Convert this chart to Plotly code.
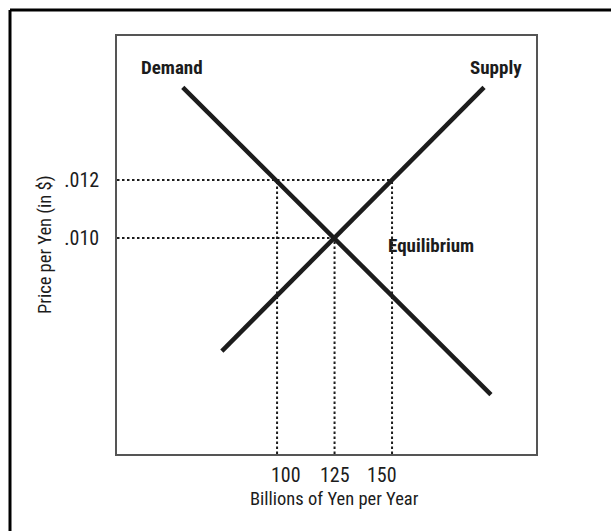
import plotly.graph_objects as go

# ---- data ----
demand_x = [59, 193]
demand_y = [0.0152, 0.0046]
supply_x = [76, 190]
supply_y = [0.0061, 0.0152]
quantity_ticks = [100, 125, 150]
quantity_labels = ["100", "125", "150"]
price_ticks = [0.010, 0.012]
price_labels = [".010", ".012"]
eq_q, eq_p = 125, 0.010          # equilibrium
hi_p = 0.012                     # higher price
hi_q_demand, hi_q_supply = 100, 150

# ---- layout geometry ----
W, H = 611, 531
L, R, T, B = 117, 75, 36, 77
PW, PH = W - L - R, H - T - B
x_range = [30.4, 212.6]
y_range = [0.00255, 0.01697]

FONT = "Liberation Sans Narrow, Arial Narrow, Roboto Condensed, sans-serif"
INK = "#1c1c1c"

fig = go.Figure()

dot = dict(color=INK, width=2, dash="2.5px,2.5px")
guides = [
    ([x_range[0], hi_q_supply], [hi_p, hi_p]),
    ([x_range[0], eq_q], [eq_p, eq_p]),
    ([hi_q_demand, hi_q_demand], [y_range[0], hi_p]),
    ([eq_q, eq_q], [y_range[0], eq_p]),
    ([hi_q_supply, hi_q_supply], [y_range[0], hi_p]),
]
for gx, gy in guides:
    fig.add_trace(go.Scatter(x=gx, y=gy, mode="lines", line=dot,
                             hoverinfo="skip", showlegend=False))

fig.add_trace(go.Scatter(x=demand_x, y=demand_y, mode="lines",
                         line=dict(color=INK, width=4.5), showlegend=False, name="Demand"))
fig.add_trace(go.Scatter(x=supply_x, y=supply_y, mode="lines",
                         line=dict(color=INK, width=4.5), showlegend=False, name="Supply"))

ann = []
bold = dict(family=FONT, size=19, color=INK)
ann.append(dict(x=demand_x[0], y=demand_y[0], text="<b>Demand</b>", showarrow=False,
                xshift=-11, yshift=20, font=bold))
ann.append(dict(x=supply_x[1], y=supply_y[1], text="<b>Supply</b>", showarrow=False,
                xshift=12, yshift=20, font=bold))
ann.append(dict(x=eq_q, y=eq_p, text="<b>Equilibrium</b>", showarrow=False,
                xshift=96, yshift=-7, font=bold))

reg = dict(family=FONT, size=20, color=INK)
shifts = [9, 0, -10]
for q, lab, s in zip(quantity_ticks, quantity_labels, shifts):
    ann.append(dict(x=q, xref="x", y=0, yref="paper", text=lab, showarrow=False,
                    xshift=s, yshift=-21, yanchor="middle", font=reg))
ann.append(dict(x=eq_q, xref="x", y=0, yref="paper", text="Billions of Yen per Year",
                showarrow=False, yshift=-45, yanchor="middle",
                font=dict(family=FONT, size=18.5, color=INK)))
ann.append(dict(x=(45 - L) / PW, xref="paper", y=0.5, yref="paper", text="Price per Yen (in $)",
                showarrow=False, textangle=-90, xanchor="center", yanchor="middle",
                font=dict(family=FONT, size=18.5, color=INK)))

# outer frame (top and left edges)
lx = (10 - L) / PW
ty = 1 + (T - 10) / PH
shapes = [
    dict(type="line", xref="paper", yref="paper", x0=lx, x1=lx, y0=ty, y1=-B / PH - 0.05,
         line=dict(color="#000", width=3)),
    dict(type="line", xref="paper", yref="paper", x0=lx, x1=1 + R / PW + 0.05, y0=ty, y1=ty,
         line=dict(color="#000", width=3)),
]

axis_common = dict(showline=True, linecolor="#555", linewidth=1.5, mirror=True,
                   showgrid=False, zeroline=False, ticks="")
fig.update_layout(
    width=W, height=H, margin=dict(l=L, r=R, t=T, b=B, autoexpand=False),
    paper_bgcolor="white", plot_bgcolor="white",
    xaxis=dict(range=x_range, showticklabels=False, **axis_common),
    yaxis=dict(range=y_range, tickvals=price_ticks, ticktext=price_labels,
               ticklabelstandoff=12, tickfont=dict(family=FONT, size=20, color=INK),
               **axis_common),
    annotations=ann, shapes=shapes, showlegend=False,
)

fig.write_html("out.html", config={"displayModeBar": False},
               post_script="document.body.style.margin='0';document.body.style.overflow='hidden';")
